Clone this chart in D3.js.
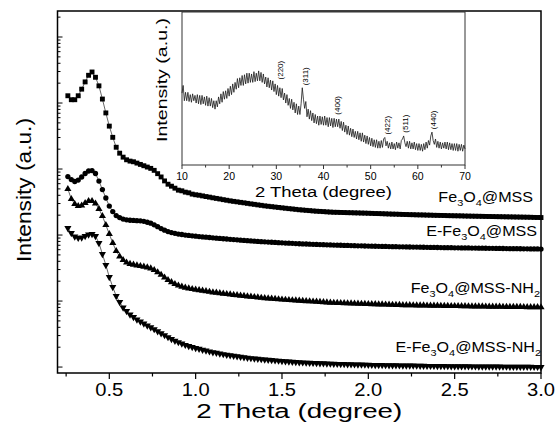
<!DOCTYPE html>
<html><head><meta charset="utf-8">
<script src="https://cdn.jsdelivr.net/npm/d3@7"></script>
<style>html,body{margin:0;padding:0;background:#fff;} svg{display:block;} text{font-family:"Liberation Sans",Arial,sans-serif;fill:#000;}</style>
</head><body><svg id="c" width="557" height="441"></svg>
<script>
// ---------------- DATA ----------------
// main SAXS patterns: 2 theta grid (0.26 .. 3.00, step 0.02) and log10 intensity (a.u., offset stacked)
const twoTheta = d3.range(138).map(i => +(0.26 + 0.02 * i).toFixed(2));

const fe3o4MSS = [4.11,4.05,4.05,4.11,4.21,4.32,4.42,4.47,4.39,4.26,4.06,3.85,3.65,3.48,3.33,3.24,3.18,3.14,3.12,3.11,3.09,3.07,3.05,3.03,3.01,2.98,2.93,2.88,2.82,2.77,2.74,2.71,2.68,2.67,2.65,2.64,2.62,2.61,
2.603,2.593,2.583,2.574,2.564,2.555,2.546,2.536,2.527,2.518,2.510,2.503,2.495,2.488,2.480,2.472,2.465,2.457,2.450,2.442,2.436,2.430,2.424,2.418,2.412,2.406,2.400,2.395,2.389,2.383,2.379,2.374,2.370,2.365,2.361,2.358,2.355,2.351,2.348,2.345,2.344,2.342,2.341,2.339,2.338,2.336,2.335,2.333,2.332,2.330,2.328,2.326,2.325,2.323,2.321,2.319,2.317,2.316,2.314,2.312,2.311,2.309,2.308,2.306,2.305,2.304,2.302,2.301,2.299,2.298,2.297,2.296,2.294,2.293,2.292,2.291,2.290,2.288,2.287,2.286,2.285,2.284,2.283,2.282,2.281,2.280,2.279,2.278,2.277,2.276,2.275,2.274,2.273,2.272,2.271,2.270,2.269,2.267,2.266,2.265];

const eFe3o4MSS = [2.886,2.841,2.811,2.833,2.879,2.932,2.970,2.977,2.932,2.818,2.689,2.561,2.439,2.356,2.295,2.265,2.242,2.230,2.224,2.221,2.218,2.215,2.208,2.194,2.179,2.155,2.127,2.098,2.073,2.053,2.038,2.026,2.015,2.008,2.000,1.994,1.988,1.982,
1.977,1.972,1.968,1.963,1.958,1.953,1.949,1.944,1.940,1.935,1.931,1.927,1.922,1.918,1.914,1.911,1.907,1.904,1.900,1.897,1.894,1.891,1.888,1.885,1.882,1.879,1.876,1.874,1.871,1.868,1.866,1.864,1.862,1.860,1.858,1.856,1.854,1.852,1.850,1.848,1.846,1.845,1.843,1.842,1.840,1.839,1.837,1.836,1.834,1.833,1.832,1.830,1.829,1.828,1.827,1.826,1.824,1.823,1.822,1.821,1.820,1.819,1.818,1.817,1.816,1.815,1.814,1.813,1.812,1.811,1.810,1.809,1.809,1.808,1.807,1.806,1.805,1.805,1.804,1.803,1.802,1.801,1.801,1.800,1.799,1.798,1.797,1.797,1.796,1.795,1.794,1.794,1.793,1.792,1.791,1.791,1.790,1.789,1.789,1.788];

const fe3o4MSSNH2 = [2.697,2.545,2.470,2.439,2.447,2.485,2.515,2.515,2.477,2.394,2.288,2.152,2.015,1.879,1.758,1.674,1.621,1.583,1.564,1.552,1.541,1.530,1.521,1.511,1.495,1.470,1.436,1.398,1.356,1.318,1.285,1.258,1.235,1.217,1.203,1.192,1.182,1.173,
1.165,1.157,1.149,1.140,1.132,1.126,1.119,1.113,1.106,1.100,1.094,1.088,1.083,1.077,1.071,1.066,1.061,1.055,1.050,1.045,1.041,1.036,1.032,1.027,1.023,1.019,1.016,1.012,1.009,1.005,1.002,0.999,0.996,0.993,0.990,0.986,0.983,0.980,0.977,0.974,0.972,0.970,0.968,0.966,0.965,0.963,0.961,0.959,0.957,0.955,0.953,0.952,0.950,0.949,0.947,0.945,0.944,0.942,0.941,0.939,0.938,0.937,0.936,0.935,0.934,0.933,0.932,0.931,0.930,0.929,0.928,0.927,0.926,0.925,0.925,0.924,0.923,0.922,0.921,0.920,0.919,0.918,0.918,0.917,0.916,0.915,0.914,0.914,0.913,0.912,0.911,0.911,0.910,0.910,0.909,0.908,0.908,0.907,0.907,0.906];

const eFe3o4MSSNH2 = [2.106,2.030,1.977,1.955,1.962,1.985,2.008,2.015,1.985,1.879,1.712,1.545,1.364,1.212,1.076,0.985,0.902,0.848,0.795,0.758,0.720,0.689,0.659,0.629,0.602,0.573,0.542,0.512,0.482,0.452,0.424,0.398,0.376,0.355,0.335,0.318,0.303,0.288,
0.275,0.262,0.249,0.236,0.224,0.214,0.205,0.195,0.186,0.177,0.169,0.162,0.154,0.147,0.139,0.134,0.129,0.124,0.119,0.114,0.109,0.105,0.100,0.096,0.091,0.087,0.083,0.079,0.075,0.071,0.069,0.066,0.064,0.062,0.060,0.057,0.055,0.053,0.050,0.048,0.047,0.045,0.044,0.042,0.041,0.039,0.038,0.036,0.035,0.033,0.032,0.031,0.030,0.029,0.028,0.027,0.026,0.025,0.024,0.023,0.022,0.021,0.021,0.020,0.019,0.018,0.017,0.017,0.016,0.015,0.014,0.014,0.013,0.012,0.012,0.011,0.011,0.010,0.010,0.009,0.009,0.008,0.008,0.007,0.007,0.006,0.006,0.006,0.005,0.005,0.004,0.004,0.004,0.003,0.003,0.002,0.002,0.001,0.001,0.000];

const seriesLabels = [
  [["Fe",0],["3",1],["O",0],["4",1],["@MSS",0]],
  [["E-Fe",0],["3",1],["O",0],["4",1],["@MSS",0]],
  [["Fe",0],["3",1],["O",0],["4",1],["@MSS-NH",0],["2",1]],
  [["E-Fe",0],["3",1],["O",0],["4",1],["@MSS-NH",0],["2",1]]
];
const mainXTicks = [0.5, 1.0, 1.5, 2.0, 2.5, 3.0];
const mainXMinor = [0.25, 0.75, 1.25, 1.75, 2.25, 2.75];

// inset wide-angle XRD: 2 theta 10..70 step 0.25, intensity (a.u.)
const insetTheta = d3.range(241).map(i => 10 + 0.25 * i);
const insetI = [
47,52,42,47.5, 42,47.5,41.5,46, 41,46.5,42,45.5, 40.5,46,40,45.5, 39.5,45.5,40,44.5,
39,45,38.5,44, 38.5,43.5,37.5,42, 36.5,42,38,44.5, 40,46.5,41,48, 43,48.5,43.5,50,
45,51.5,46,53, 47.5,54,49.5,56.5, 50.5,57,52,58.5, 52,59,53,60, 53.5,60,54,59.5,
54,61,54.5,60, 55,61.5,55,60.5, 54,59.5,53,57.5, 51,57,50.5,55.5, 49,55,48,53,
46,52,45,50.5, 44,50,42.5,47, 40.5,46,39,43.5, 37,43,36,41, 34,40,33,38.5,
33,40,50.5,43, 37,41.5,31.5,36.5, 30,35.5,29,34, 27.5,33,27,32, 26,32,26.5,31.5,
26,32,26,31, 25,31,25.5,30.5, 24.5,30.5,25,30, 25,30,24,28.5, 22.5,28,21.5,26,
20,25.5,19.5,24, 18.5,23.5,18,22, 17,22,16.5,21, 15.5,21,15,19.5, 14,19,13.5,18,
12.5,17.5,12,16.5, 11.5,16.5,11,15.5, 11,16,11.5,17, 18,12.5,15.5,11, 14.5,10.5,15,10.5,
14,10,15,11, 14.5,10.5,16,17, 19,14.5,12,15.5, 11,15.5,10.5,14.5, 10.5,15,10,14,
9.5,14,9.5,13.5, 9,14,10,15, 11,16,13,19, 21.5,16,13.5,17, 11.5,15.5,11,15,
10.5,14.5,11,15, 10.5,15,10,14.5, 10,14,9.5,14, 9.5,14,9,13.5, 9.5,13.5,9,13,
10.5];
const insetXTicks = [10, 20, 30, 40, 50, 60, 70];
const insetXMinor = [15, 25, 35, 45, 55, 65];
const peakHKL = ["(220)", "(311)", "(400)", "(422)", "(511)", "(440)"];
const peakPos = [30.8, 36.1, 42.9, 53.5, 57.3, 63.2];
const peakLevel = [62, 58, 39, 26, 27, 29.5];

// ---------------- DRAW ----------------
const svg = d3.select("#c");
const L = 57.5, R = 541, T = 11, B = 373;
const x = d3.scaleLinear().domain([0.2, 3.0]).range([L, R]);
const y = d3.scaleLog().domain([Math.pow(10, -0.09), Math.pow(10, 5.394)]).range([B, T]);

const series = [fe3o4MSS, eFe3o4MSS, fe3o4MSSNH2, eFe3o4MSSNH2];
const symbols = [d3.symbolSquare, d3.symbolCircle, d3.symbolTriangle, d3.symbolTriangle];
const symSize = [24, 22, 22, 22];
const symRot = [0, 0, 0, 180];

const line = d3.line().x(d => x(d[0])).y(d => y(Math.pow(10, d[1])));
series.forEach((vals, si) => {
  const pts = vals.map((v, i) => [twoTheta[i], v]).filter(d => d[0] !== undefined);
  svg.append("path").datum(pts).attr("d", line).attr("fill", "none").attr("stroke", "#000").attr("stroke-width", 0.6);
  const sym = d3.symbol().type(symbols[si]).size(symSize[si]);
  svg.append("g").selectAll("path").data(pts).join("path")
    .attr("d", sym)
    .attr("transform", d => `translate(${x(d[0])},${y(Math.pow(10, d[1]))}) rotate(${symRot[si]})`)
    .attr("fill", "#000");
});

// frame
svg.append("rect").attr("x", L).attr("y", T).attr("width", R - L).attr("height", B - T)
  .attr("fill", "none").attr("stroke", "#000").attr("stroke-width", 1.5);

// x ticks
mainXTicks.forEach(v => svg.append("line").attr("x1", x(v)).attr("x2", x(v)).attr("y1", B).attr("y2", B + 6).attr("stroke", "#000").attr("stroke-width", 1.2));
mainXMinor.forEach(v => svg.append("line").attr("x1", x(v)).attr("x2", x(v)).attr("y1", B).attr("y2", B + 3.5).attr("stroke", "#000").attr("stroke-width", 1.2));
mainXTicks.forEach(v => svg.append("text").attr("x", x(v)).attr("y", 396).attr("text-anchor", "middle")
  .attr("font-size", 17.5).attr("textLength", 28).attr("lengthAdjust", "spacingAndGlyphs").text(d3.format(".1f")(v)));

// y ticks (log, inward)
const [y0, y1] = y.domain();
for (let n = -1; n <= 6; n++) {
  for (let k = 1; k <= 9; k++) {
    const v = k * Math.pow(10, n);
    if (v < 1 || v > y1) continue;
    const len = k === 1 ? 5 : 3;
    svg.append("line").attr("x1", L).attr("x2", L + len).attr("y1", y(v)).attr("y2", y(v)).attr("stroke", "#000").attr("stroke-width", 1);
  }
}

// axis titles
svg.append("text").attr("x", (L + R) / 2).attr("y", 417.5).attr("text-anchor", "middle")
  .attr("font-size", 20).attr("textLength", 206).attr("lengthAdjust", "spacingAndGlyphs").text("2 Theta (degree)");
svg.append("text").attr("transform", "translate(31,190) rotate(-90)").attr("text-anchor", "middle")
  .attr("font-size", 21).attr("textLength", 144).attr("lengthAdjust", "spacingAndGlyphs").text("Intensity (a.u.)");

// series labels
const labelPos = [[533, 202], [537, 236], [540, 293], [541, 351.5]];
seriesLabels.forEach((parts, i) => {
  const t = svg.append("text").attr("transform", `translate(${labelPos[i][0]},${labelPos[i][1]}) scale(1.15,1)`)
    .attr("text-anchor", "end").attr("font-size", 14);
  let sub = false;
  parts.forEach(([s, isSub]) => {
    const ts = t.append("tspan").text(s);
    if (isSub && !sub) { ts.attr("dy", 4).attr("font-size", 9.5); sub = true; }
    else if (isSub) { ts.attr("font-size", 9.5); }
    else if (!isSub && sub) { ts.attr("dy", -4); sub = false; }
  });
});

// ---------------- INSET ----------------
const iL = 182, iR = 465, iT = 12, iB = 165;
const xi = d3.scaleLinear().domain([10, 70]).range([iL, iR]);
const yi = d3.scaleLinear().domain([0, 100]).range([iB, iT]);
svg.append("rect").attr("x", iL).attr("y", iT).attr("width", iR - iL).attr("height", iB - iT)
  .attr("fill", "#fff").attr("stroke", "#333").attr("stroke-width", 1);
const iline = d3.line().x(d => xi(d[0])).y(d => yi(d[1]));
svg.append("path").datum(insetI.map((v, i) => [insetTheta[i], v])).attr("d", iline)
  .attr("fill", "none").attr("stroke", "#1a1a1a").attr("stroke-width", 0.8);
insetXTicks.forEach(v => svg.append("line").attr("x1", xi(v)).attr("x2", xi(v)).attr("y1", iB).attr("y2", iB + 4).attr("stroke", "#333"));
insetXMinor.forEach(v => svg.append("line").attr("x1", xi(v)).attr("x2", xi(v)).attr("y1", iB).attr("y2", iB + 2.5).attr("stroke", "#333"));
insetXTicks.forEach(v => svg.append("text").attr("x", xi(v)).attr("y", 180).attr("text-anchor", "middle")
  .attr("font-size", 10.5).attr("fill", "#222").text(v));
svg.append("text").attr("x", (iL + iR) / 2).attr("y", 197).attr("text-anchor", "middle")
  .attr("font-size", 14).attr("textLength", 137).attr("lengthAdjust", "spacingAndGlyphs").text("2 Theta (degree)");
svg.append("text").attr("transform", "translate(167,80) rotate(-90)").attr("text-anchor", "middle")
  .attr("font-size", 15).attr("textLength", 124).attr("lengthAdjust", "spacingAndGlyphs").text("Intensity (a.u.)");
peakHKL.forEach((h, i) => {
  svg.append("text").attr("transform", `translate(${xi(peakPos[i]) + 3},${yi(peakLevel[i])}) rotate(-90)`)
    .attr("text-anchor", "middle").attr("font-size", 8).attr("fill", "#444").text(h);
});
</script></body></html>
